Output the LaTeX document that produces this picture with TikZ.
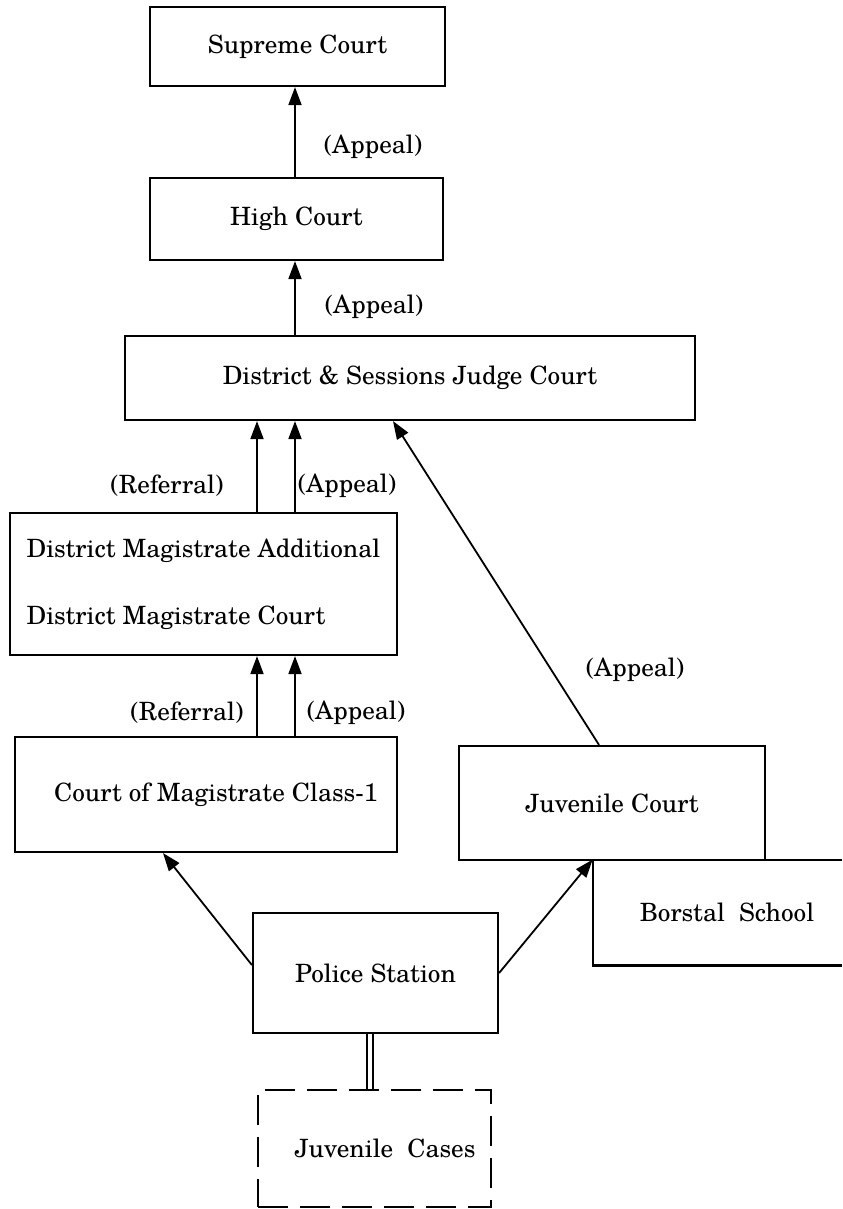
\documentclass[tikz,border=0pt]{standalone}
\usepackage{fontspec}
\setmainfont{TeX Gyre Schola}
\usetikzlibrary{arrows.meta}
\newcommand\ctfont{\fontsize{12.6}{15}\selectfont}
\begin{document}
\begin{tikzpicture}[x=0.5pt,y=-0.5pt,
  wh/.style 2 args={minimum width=#1*0.5pt, minimum height=#2*0.5pt},
  box/.style={draw, line width=1.1pt, inner sep=0pt, font=\ctfont},
  dashbox/.style={box, dash pattern=on 15pt off 6pt},
  plain/.style={inner sep=0pt, font=\ctfont},
  lab/.style={inner sep=0pt, font=\ctfont},
  arr/.style={line width=0.9pt, -{Triangle[length=9pt,width=6.5pt]}},
  outline/.style={line width=1.1pt}]
\useasboundingbox (0,0) rectangle (842,1209);
\fill[white] (0,0) rectangle (842,1209);

% columns used by the vertical connectors
\coordinate (xa) at (257,0);
\coordinate (xb) at (295,0);
\coordinate (xd) at (393,0);
\coordinate (xj) at (599,0);
\coordinate (xl) at (163,0);
\coordinate (xm) at (370,0);

% courts and offices
\node[box, wh={295}{79}] (sc) at (297.5,46.5) {Supreme Court};
\node[box, wh={293}{82}] (hc) at (296.5,219) {High Court};
\node[box, wh={570}{84}] (dsjc) at (410,378) {District \& Sessions Judge Court};
\node[box, wh={387}{142}, align=left] (dmc) at (203.5,584)
  {District Magistrate Additional\\[18.5pt]District Magistrate Court};
\node[box, wh={382}{115}] (cmc) at (206,794.5) {\hspace{10pt}Court of Magistrate Class-1};
\node[box, wh={306}{114}] (jc) at (612,803) {Juvenile Court\hspace{12pt}};
\node[plain, wh={249}{105}] (bs) at (717.5,912.5) {\hspace{9.5pt}Borstal\ \ School};
\draw[outline] (bs.north east) -- (bs.north west) -- (bs.south west) -- (bs.south east);
\node[box, wh={245}{120}] (ps) at (375.5,973) {Police Station};
\node[dashbox, wh={233}{117}] (jcs) at (374.5,1148.5) {\hspace{10.5pt}Juvenile\ \ Cases};

% appeals and referrals
\draw[arr] (hc.north -| xb) -- (sc.south -| xb);
\draw[arr] (dsjc.north -| xb) -- (hc.south -| xb);
\draw[arr] (dmc.north -| xa) -- (dsjc.south -| xa);
\draw[arr] (dmc.north -| xb) -- (dsjc.south -| xb);
\draw[arr] (cmc.north -| xa) -- (dmc.south -| xa);
\draw[arr] (cmc.north -| xb) -- (dmc.south -| xb);
\draw[arr] (jc.north -| xj) -- (dsjc.south -| xd);
\draw[arr] ([yshift=4pt]ps.west) -- (cmc.south -| xl);
\draw[arr] (ps.east) -- (bs.north west);
\draw[double, double distance=2.2pt, line width=0.7pt] (ps.south -| xm) -- (jcs.north -| xm);

% connector labels
\node[lab] (l1) at (373,147) {(Appeal)};
\node[lab] (l2) at (374,307) {(Appeal)};
\node[lab] (l3) at (167,486) {(Referral)};
\node[lab] (l4) at (347,486) {(Appeal)};
\node[lab] (l5) at (187,713) {(Referral)};
\node[lab] (l6) at (356,713) {(Appeal)};
\node[lab] (l7) at (635,670) {(Appeal)};
\end{tikzpicture}
\end{document}
